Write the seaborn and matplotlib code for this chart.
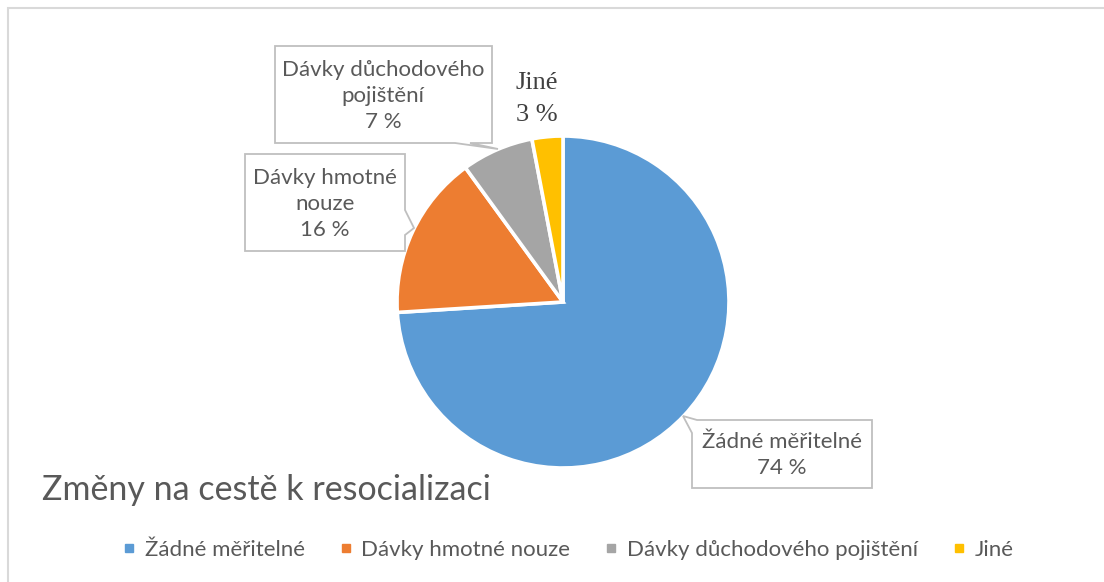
import matplotlib
matplotlib.use("Agg")
import matplotlib.pyplot as plt
import seaborn as sns
from matplotlib.patches import Polygon, Rectangle
from matplotlib.lines import Line2D

# ---- data ----
categories = ["Žádné měřitelné", "Dávky hmotné nouze", "Dávky důchodového pojištění", "Jiné"]
values = [74, 16, 7, 3]
label_texts = ["Žádné měřitelné\n74 %", "Dávky hmotné\nnouze\n16 %", "Dávky důchodového\npojištění\n7 %", "Jiné\n3 %"]
title = "Změny na cestě k resocializaci"
colors = ["#5B9BD5", "#ED7D31", "#A5A5A5", "#FFC000"]

sns.set_theme(style="white")
palette = sns.color_palette(colors)
SANS = ["Lato", "DejaVu Sans"]
SERIF = ["Liberation Serif", "DejaVu Serif"]
plt.rcParams["font.family"] = SANS
TXT = "#595959"
EDGE = "#BFBFBF"

W, H = 1104, 582
fig = plt.figure(figsize=(W / 100, H / 100), dpi=100)
fig.patch.set_facecolor("white")

def px(x, y):
    return (x / W, 1 - y / H)

# outer chart border
fig.patches.append(Rectangle(px(8, 600), (W + 20) / W, (600 - 8) / H, transform=fig.transFigure,
                             fill=False, edgecolor="#D9D9D9", linewidth=1.5))

# pie axes
cx, cy, r = 563, 302, 166
k = 1.1
ax = fig.add_axes([(cx - k * r) / W, (H - cy - k * r) / H, 2 * k * r / W, 2 * k * r / H])
wedges, _ = ax.pie(values, colors=palette, startangle=90, counterclock=False,
                   wedgeprops=dict(edgecolor="white", linewidth=2.6))
ax.set_xlim(-k, k)
ax.set_ylim(-k, k)
ax.set_aspect("equal")
ax.axis("off")

# callout shapes (layout in pixels)
def callout(verts):
    p = Polygon([px(x, y) for x, y in verts], closed=True, transform=fig.transFigure,
                facecolor="white", edgecolor=EDGE, linewidth=1.3, zorder=5)
    fig.patches.append(p)

callout([(275, 46), (492, 46), (492, 143), (470, 143), (498, 149), (455, 143), (275, 143)])
callout([(245, 154), (405, 154), (405, 210), (414, 228), (405, 235), (405, 251), (245, 251)])
callout([(697, 420), (872, 420), (872, 488), (692, 488), (692, 433), (683, 416)])

def label(x, y, s, fam=SANS, size=16, ls=1.38):
    fig.text(*px(x, y), s, ha="center", va="center", color=TXT, family=fam,
             fontsize=size, linespacing=ls, zorder=6)

label(383, 96, label_texts[2])
label(325, 204, label_texts[1])
label(782, 455, label_texts[0])
fig.text(*px(537, 99), label_texts[3], ha="center", va="center", color="#404040",
         family=SERIF, fontsize=19, linespacing=1.6, zorder=6)

# title
fig.text(*px(42, 490), title, ha="left", va="center", color=TXT, fontsize=24.5, family=SANS)

# legend
handles = [Line2D([], [], marker="s", linestyle="none", markersize=5.5,
                  markerfacecolor=c, markeredgecolor=c) for c in palette]
leg = fig.legend(handles, categories, loc="center", bbox_to_anchor=(568 / W, 1 - 550 / H),
                 ncol=4, frameon=False, fontsize=16, handlelength=0.6, handletextpad=0.4,
                 columnspacing=1.55)
for t in leg.get_texts():
    t.set_color(TXT)

fig.savefig("out.png", dpi=100, facecolor="white")
